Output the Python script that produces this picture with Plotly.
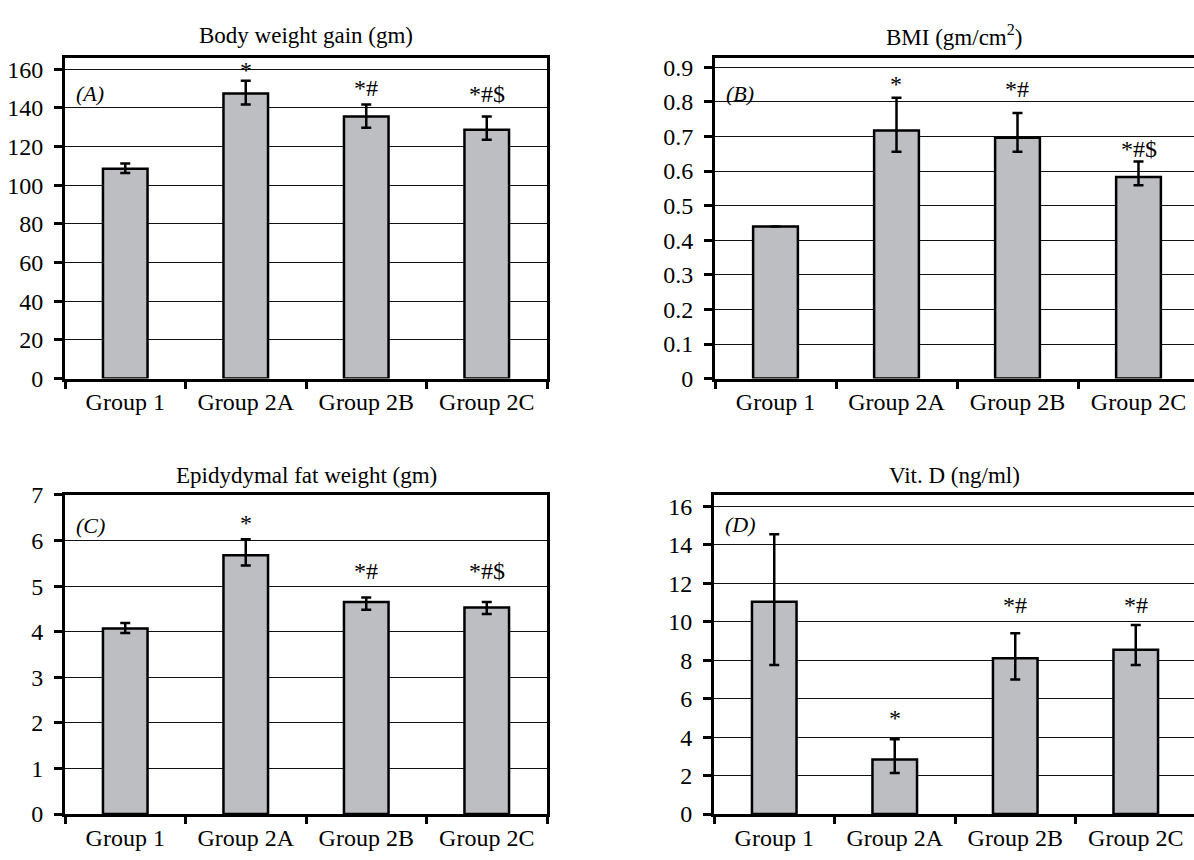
import plotly.graph_objects as go

W, H = 1194, 860

groups = ["Group 1", "Group 2A", "Group 2B", "Group 2C"]

# Panel A: Body weight gain (gm)
bwg_mean = [108.5, 147.5, 135.5, 128.7]
bwg_err_up = [2.8, 6.5, 6.3, 6.8]
bwg_err_dn = [2.2, 5.7, 5.8, 5.2]
bwg_sig = ["", "*", "*#", "*#$"]
bwg_sig_y = [None, 159.5, 150.5, 147.4]

# Panel B: BMI (gm/cm2)
bmi_mean = [0.440, 0.717, 0.696, 0.583]
bmi_err_up = [0.0, 0.095, 0.072, 0.045]
bmi_err_dn = [0.0, 0.061, 0.040, 0.024]
bmi_sig = ["", "*", "*#", "*#$"]
bmi_sig_y = [None, 0.853, 0.838, 0.663]

# Panel C: Epididymal fat weight (gm)
fat_mean = [4.07, 5.68, 4.65, 4.53]
fat_err_up = [0.12, 0.35, 0.10, 0.12]
fat_err_dn = [0.10, 0.23, 0.17, 0.14]
fat_sig = ["", "*", "*#", "*#$"]
fat_sig_y = [None, 6.39, 5.34, 5.34]

# Panel D: Vit. D (ng/ml)
vitd_mean = [11.05, 2.84, 8.10, 8.55]
vitd_err_up = [3.50, 1.05, 1.30, 1.28]
vitd_err_dn = [3.30, 0.70, 1.10, 0.80]
vitd_sig = ["", "*", "*#", "*#"]
vitd_sig_y = [None, 4.98, 10.85, 10.85]

panels = [
    dict(mean=bwg_mean, up=bwg_err_up, dn=bwg_err_dn, sig=bwg_sig, sigy=bwg_sig_y,
         title="Body weight gain (gm)", tag="(A)", yr=[0, 166], dt=20,
         px=(65, 547), py=(46, 377), xr=[-0.5, 3.5], mirror_y=True, tagy=83, titley=23),
    dict(mean=bmi_mean, up=bmi_err_up, dn=bmi_err_dn, sig=bmi_sig, sigy=bmi_sig_y,
         title="BMI (gm/cm<sup>2</sup>)", tag="(B)", yr=[0, 0.928], dt=0.1,
         px=(715, 1194), py=(46, 377), xr=[-0.5, -0.5 + 479 / 121], mirror_y=False, tagy=83, titley=23),
    dict(mean=fat_mean, up=fat_err_up, dn=fat_err_dn, sig=fat_sig, sigy=fat_sig_y,
         title="Epidydymal fat weight (gm)", tag="(C)", yr=[0, 7], dt=1,
         px=(65, 547), py=(497, 826), xr=[-0.5, 3.5], mirror_y=True, tagy=528, titley=477),
    dict(mean=vitd_mean, up=vitd_err_up, dn=vitd_err_dn, sig=vitd_sig, sigy=vitd_sig_y,
         title="Vit. D (ng/ml)", tag="(D)", yr=[0, 16.6], dt=2,
         px=(714, 1194), py=(497, 826), xr=[-0.5, -0.5 + 480 / 120.5], mirror_y=False, tagy=527, titley=477),
]

FONT = "Liberation Serif, Times New Roman, serif"
fig = go.Figure()
annotations = []
layout = {}

for i, p in enumerate(panels, start=1):
    xa = "x" if i == 1 else f"x{i}"
    ya = "y" if i == 1 else f"y{i}"
    fig.add_trace(go.Bar(
        x=groups, y=p["mean"], xaxis=xa, yaxis=ya, width=0.37,
        marker=dict(color="#bdbec2", line=dict(color="black", width=2.5)),
        error_y=dict(type="data", symmetric=False, array=p["up"], arrayminus=p["dn"],
                     color="black", thickness=2.5, width=5),
        showlegend=False, hoverinfo="skip",
    ))
    xdom = [p["px"][0] / W, p["px"][1] / W]
    ydom = [1 - p["py"][1] / H, 1 - p["py"][0] / H]
    layout["xaxis" if i == 1 else f"xaxis{i}"] = dict(
        domain=xdom, anchor=ya, type="category", range=p["xr"],
        tickson="boundaries", ticks="outside", ticklen=7, tickwidth=2.5, tickcolor="black",
        showline=True, linecolor="black", linewidth=3, mirror=True,
        showgrid=False, tickfont=dict(family=FONT, size=24, color="black"), fixedrange=True,
    )
    layout["yaxis" if i == 1 else f"yaxis{i}"] = dict(
        domain=ydom, anchor=xa, range=p["yr"], dtick=p["dt"], tick0=0,
        ticks="outside", ticklen=8, tickwidth=2.5, tickcolor="black", ticklabelstandoff=6,
        showline=True, linecolor="black", linewidth=3, mirror=p["mirror_y"],
        showgrid=True, gridcolor="#111111", gridwidth=1.2, zeroline=False,
        tickfont=dict(family=FONT, size=24, color="black"), fixedrange=True,
    )
    xd = "x domain" if i == 1 else f"x{i} domain"
    # title
    annotations.append(dict(text=p["title"], xref=xd, x=0.5, yref="paper", y=1 - p["titley"] / H,
                            xanchor="center", yanchor="middle", showarrow=False,
                            font=dict(family=FONT, size=23, color="black")))
    # panel tag
    annotations.append(dict(text=f"<i>{p['tag']}</i>", xref=xd, x=0.018, yref="paper", y=1 - p["tagy"] / H,
                            xanchor="left", yanchor="middle", showarrow=False,
                            font=dict(family=FONT, size=22, color="black")))
    # significance marks
    for g, s, sy in zip(groups, p["sig"], p["sigy"]):
        if s:
            annotations.append(dict(text=s, xref=xa, x=g, yref=ya, y=sy,
                                    xanchor="center", yanchor="middle", showarrow=False,
                                    font=dict(family=FONT, size=24, color="black")))

fig.update_layout(
    width=W, height=H, margin=dict(l=0, r=0, t=0, b=0),
    paper_bgcolor="white", plot_bgcolor="white",
    annotations=annotations, **layout,
)

fig.write_html("out.html", config={"displayModeBar": False},
               post_script="document.body.style.margin='0';document.body.style.overflow='hidden';")
